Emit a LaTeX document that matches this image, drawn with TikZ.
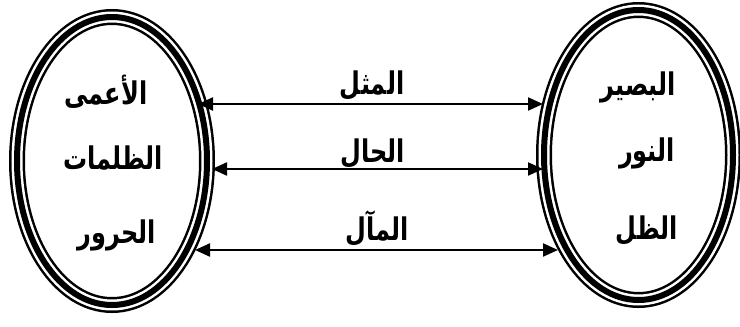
\documentclass[tikz,border=0pt]{standalone}
\usepackage{fontspec}
\usetikzlibrary{shapes.geometric,arrows.meta}
\TeXXeTstate=1
\newfontfamily\arabicfont[Script=Arabic]{DejaVu Sans}
\tikzset{
  triple/.style={ellipse, inner sep=0pt,
    preaction={draw=black, line width=16pt},
    draw=white, line width=11pt,
    postaction={draw=black, line width=6pt}},
  word/.style={font=\arabicfont\bfseries\fontsize{24}{28}\selectfont, inner sep=0pt},
  conn/.style={line width=2.2pt, {Triangle[length=15pt,width=13pt]}-{Triangle[length=15pt,width=13pt]}}
}
\newcommand{\ar}[1]{\scalebox{1}[1.3]{\beginR #1\endR}}
\begin{document}
\begin{tikzpicture}[x=1pt,y=-1pt]
\useasboundingbox (0,0) rectangle (740,327);
\node[triple, minimum width=190pt, minimum height=288pt] (L) at (112,161) {};
\node[triple, minimum width=189pt, minimum height=290pt] (R) at (638.5,155) {};
% texts in ellipses
\node[word] (l1) at (106,92) {\ar{الأعمى}};
\node[word] (l2) at (113,158) {\ar{الظلمات}};
\node[word] (l3) at (117,235) {\ar{الحرور}};
\node[word] (r1) at (638,87) {\ar{البصير}};
\node[word] (r2) at (647,153) {\ar{النور}};
\node[word] (r3) at (647,231) {\ar{الظل}};
% connector ends
\path (L.center) ++(86,-57) coordinate (a1);
\path (L.center) ++(100,8) coordinate (a2);
\path (L.center) ++(83,89) coordinate (a3);
\path (R.center) ++(-95.5,-51) coordinate (b1);
\path (R.center) ++(-95.5,14) coordinate (b2);
\path (R.center) ++(-80.5,95) coordinate (b3);
\draw[conn] (a1) -- (b1);
\draw[conn] (a2) -- (b2);
\draw[conn] (a3) -- (b3);
% labels
\node[word] (m1) at (372,86) {\ar{المثل}};
\node[word] (m2) at (373,153) {\ar{الحال}};
\node[word] (m3) at (377,228) {\ar{المآل}};
\end{tikzpicture}
\end{document}
